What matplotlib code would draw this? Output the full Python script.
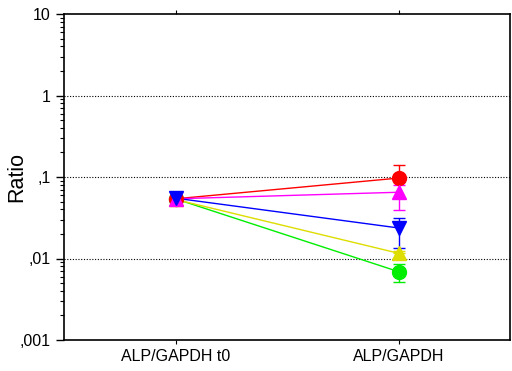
import numpy as np
from matplotlib import pyplot as plt
from matplotlib.ticker import FixedLocator, LogLocator, NullFormatter

plt.rcParams['font.family'] = ['Liberation Sans', 'DejaVu Sans']

groups = ["ALP/GAPDH t0", "ALP/GAPDH"]
colors = ["#ff0000", "#ff00ff", "#0000ff", "#dddd00", "#00ee00"]
markers = ["o", "^", "v", "^", "o"]
start = [0.054, 0.054, 0.055, 0.053, 0.054]
end = [0.097, 0.065, 0.0237, 0.0116, 0.0069]
err_hi = [0.140, 0.079, 0.031, 0.0125, 0.0085]
err_lo = [0.097, 0.039, 0.0135, 0.0116, 0.0052]

fig = plt.figure(figsize=(5.12, 3.71), dpi=100)
ax = fig.add_axes([64 / 512, 31 / 371, 446 / 512, 326 / 371])

xs = np.arange(1, len(groups) + 1)
order = [4, 3, 0, 1, 2]
for i in order:
    ax.plot(xs, [start[i], end[i]], color=colors[i], lw=1, zorder=2)
    ax.errorbar([xs[1]], [end[i]],
                yerr=[[end[i] - err_lo[i]], [err_hi[i] - end[i]]],
                fmt='none', ecolor=colors[i], elinewidth=1, capsize=4, zorder=3)
    ax.plot(xs[0], start[i], marker=markers[i], color=colors[i], ms=10,
            mec=colors[i], zorder=4)
    ax.plot(xs[1], end[i], marker=markers[i], color=colors[i], ms=10,
            mec=colors[i], zorder=4)

ax.set_yscale('log')
ax.set_ylim(0.001, 10)
ax.set_xlim(0.5, 2.5)
ax.set_xticks(xs)
ax.set_xticklabels(groups, fontsize=11.5)
ax.yaxis.set_major_locator(FixedLocator([0.001, 0.01, 0.1, 1, 10]))
ax.set_yticklabels([",001", ",01", ",1", "1", "10"], fontsize=11.5)
ax.yaxis.set_minor_locator(LogLocator(base=10, subs=np.arange(2, 10)))
ax.yaxis.set_minor_formatter(NullFormatter())
ax.tick_params(axis='y', which='major', direction='out', length=6, width=1)
ax.tick_params(axis='y', which='minor', direction='out', length=3, width=0.8)
ax.tick_params(axis='x', direction='out', length=3, top=True)
for yv in [0.01, 0.1, 1]:
    ax.axhline(yv, color='black', lw=0.8, ls=(0, (1, 1.5)), zorder=1)
for s in ax.spines.values():
    s.set_linewidth(1.2)
ax.set_ylabel("Ratio", fontsize=15.5)
ax.yaxis.set_label_coords(-0.083, 0.5)

fig.savefig("out.png", dpi=100)
